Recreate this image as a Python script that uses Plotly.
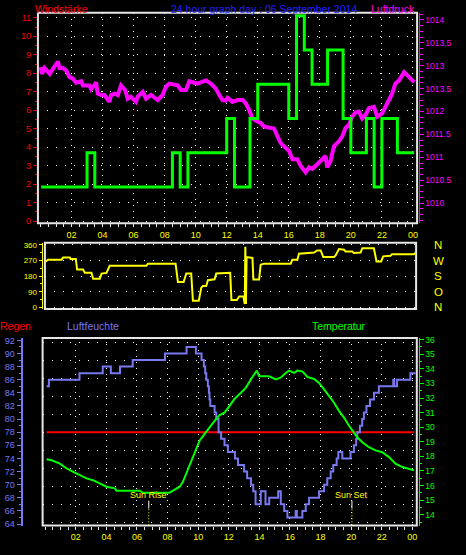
import plotly.graph_objects as go

# ---------------- data ----------------
# top chart: wind speed (km/h) as half-hour steps
wind_hours = [0.05, 3, 3.5, 8.5, 9, 9.5, 12, 12.5, 13.5, 14, 16, 16.5, 17, 17.5, 18.5, 19.5, 20, 21, 21.5, 22, 23, 24.08]
wind_avg_kmh = [1.85, 3.7, 1.85, 3.7, 1.85, 3.7, 5.56, 1.85, 5.56, 7.41, 5.56, 11.11, 9.26, 7.41, 9.26, 5.56, 3.7, 5.56, 1.85, 5.56, 3.7, 3.7]
wind_gust_kmh = [1.85, 3.7, 1.85, 3.7, 1.85, 3.7, 5.56, 1.85, 5.56, 7.41, 5.56, 11.11, 9.26, 7.41, 9.26, 5.56, 3.7, 5.56, 1.85, 5.56, 3.7, 3.7]

# top chart: air pressure (hPa)
press_hours = [0.0, 0.09, 0.26, 0.59, 0.8, 1.01, 1.12, 1.23, 1.44, 1.65,
               1.87, 2.08, 2.3, 2.62, 2.73, 3.16, 3.26, 3.48, 3.58, 3.69,
               3.9, 4.12, 4.44, 4.55, 4.77, 4.98, 5.19, 5.45, 5.62, 5.83,
               6.15, 6.26, 6.59, 6.8, 7.12, 7.55, 7.87, 8.08, 8.3, 8.84,
               9.05, 9.37, 9.59, 10.12, 10.66, 10.98, 11.3, 11.52, 11.73, 11.94,
               12.05, 12.37, 12.69, 13.02, 13.23, 13.45, 13.66, 13.98, 14.19, 14.41,
               14.84, 15.05, 15.27, 15.48, 15.7, 16.02, 16.23, 16.55, 16.77, 17.09,
               17.31, 17.52, 17.84, 18.05, 18.37, 18.48, 18.69, 18.91, 19.23, 19.45,
               19.66, 19.88, 20.09, 20.3, 20.52, 20.73, 20.95, 21.16, 21.49, 21.7,
               22.02, 22.23, 22.45, 22.66, 22.87, 23.11, 23.43, 23.76, 24.08]
press_hpa = [1012.97, 1012.82, 1012.95, 1012.82, 1012.93, 1013.04, 1013.09, 1012.95, 1012.95, 1012.9,
             1012.75, 1012.72, 1012.63, 1012.66, 1012.57, 1012.57, 1012.49, 1012.57, 1012.64, 1012.39,
             1012.36, 1012.36, 1012.21, 1012.36, 1012.39, 1012.36, 1012.57, 1012.47, 1012.28, 1012.32,
             1012.21, 1012.32, 1012.43, 1012.28, 1012.36, 1012.25, 1012.36, 1012.54, 1012.61, 1012.57,
             1012.47, 1012.47, 1012.66, 1012.61, 1012.68, 1012.61, 1012.5, 1012.36, 1012.25, 1012.24,
             1012.3, 1012.21, 1012.25, 1012.25, 1012.18, 1012.03, 1011.85, 1011.78, 1011.75, 1011.67,
             1011.65, 1011.63, 1011.46, 1011.31, 1011.24, 1011.14, 1010.96, 1010.96, 1010.81, 1010.67,
             1010.78, 1010.75, 1010.85, 1010.92, 1011.03, 1010.78, 1010.92, 1011.24, 1011.35, 1011.46,
             1011.64, 1011.71, 1011.89, 1011.98, 1012.0, 1011.85, 1011.93, 1012.07, 1012.1, 1011.89,
             1011.96, 1012.1, 1012.25, 1012.39, 1012.61, 1012.68, 1012.86, 1012.75, 1012.64]

# middle chart: wind direction (degrees)
wd_hours = [0.06, 0.21, 1.08, 1.18, 1.61, 1.66, 2.0, 2.08, 2.47, 2.58,
            3.01, 3.12, 3.55, 3.66, 3.98, 4.19, 6.56, 6.66, 8.45, 8.54,
            8.6, 8.97, 9.14, 9.46, 9.57, 9.95, 10.11, 10.21, 10.43, 10.54,
            10.97, 11.08, 11.98, 12.06, 12.41, 12.56, 12.84, 12.92, 12.96, 13.0,
            13.04, 13.42, 13.48, 13.85, 13.95, 14.17, 15.89, 16.0, 16.32, 16.43,
            17.4, 17.61, 17.83, 18.0, 18.69, 18.79, 19.01, 19.34, 19.44, 19.87,
            19.98, 20.41, 20.52, 21.27, 21.44, 21.74, 21.87, 22.34, 22.45, 23.85, 23.95]
wd_deg = [265, 275, 275, 288, 288, 279, 279, 218, 218, 199,
          199, 165, 165, 195, 199, 240, 240, 252, 252, 171,
          146, 146, 195, 195, 38, 38, 114, 123, 123, 157,
          162, 195, 199, 43, 43, 63, 63, 19, 350, 19,
          290, 285, 161, 161, 246, 252, 252, 275, 275, 309,
          316, 328, 328, 290, 290, 298, 336, 332, 322, 322,
          313, 316, 341, 341, 265, 265, 294, 298, 307, 307, 313]
wd_tickvals = [0, 90, 180, 270, 360]
wd_compass = ["N", "O", "S", "W", "N"]

# bottom chart: rain, humidity, temperature
rain_hours = [0.09, 24.1]
rain_mm = [0, 0]

hum_hours = [0.09, 0.24, 2.24, 3.76, 4.29, 4.89, 5.72, 7.83, 9.24, 9.85,
             10.22, 10.37, 10.46, 10.53, 10.63, 10.7, 10.74, 10.79, 11.07, 11.18,
             11.33, 11.5, 11.72, 11.94, 12.4, 12.6, 13.0, 13.2, 13.45, 13.6,
             13.75, 14.09, 14.4, 14.64, 15.23, 15.4, 15.62, 15.83, 16.37, 16.45,
             16.81, 17.03, 17.25, 17.68, 17.9, 18.23, 18.44, 18.66, 18.83, 19.05,
             19.16, 19.42, 19.96, 20.18, 20.33, 20.4, 20.57, 20.72, 20.83, 21.0,
             21.23, 21.49, 21.81, 22.75, 22.82, 23.0, 23.87, 24.2]
hum_pct = [85, 86, 87, 88, 87, 88, 89, 90, 91, 90,
           89, 88, 87, 86, 85, 84, 83, 82, 81, 80,
           78, 77, 76, 75, 74, 73, 72, 71, 70, 69,
           67, 69, 67, 68, 69, 67, 66, 65, 66, 65,
           66, 67, 68, 68, 69, 70, 71, 72, 73, 74,
           75, 74, 75, 76, 77, 78, 79, 80, 81, 82,
           83, 84, 85, 86, 85, 86, 87, 87]

temp_hours = [0.09, 0.42, 0.96, 1.4, 1.83, 2.26, 2.7, 3.13, 3.68, 4.0,
              4.55, 4.66, 6.18, 6.39, 8.13, 8.46, 8.79, 9.0, 9.22, 9.44,
              9.65, 9.88, 10.09, 10.42, 10.74, 11.07, 11.4, 11.72, 12.05, 12.35,
              12.79, 13.11, 13.44, 13.66, 13.83, 13.99, 14.31, 14.64, 15.07, 15.39,
              15.72, 15.94, 16.27, 16.48, 16.81, 17.14, 17.57, 17.9, 18.23, 18.55,
              18.88, 19.2, 19.53, 19.86, 20.07, 20.4, 20.73, 21.16, 21.59, 22.03,
              22.47, 22.9, 23.34, 23.77, 24.1]
temp_c = [17.8, 17.73, 17.5, 17.17, 16.94, 16.7, 16.49, 16.37, 16.08, 15.92,
          15.81, 15.65, 15.65, 15.51, 15.51, 15.69, 15.92, 16.26, 16.83, 17.39,
          18.07, 18.63, 19.08, 19.54, 19.99, 20.44, 20.83, 21.0, 21.46, 21.91,
          22.36, 22.7, 23.27, 23.6, 23.88, 23.49, 23.49, 23.49, 23.27, 23.4,
          23.72, 23.88, 23.72, 23.88, 23.83, 23.45, 23.31, 23.04, 22.59, 22.14,
          21.68, 21.12, 20.66, 20.1, 19.76, 19.31, 18.97, 18.63, 18.41, 18.29,
          17.95, 17.5, 17.27, 17.17, 17.05]

sun_rise = 6.77
sun_set = 20.05

hour_tickvals = [2, 4, 6, 8, 10, 12, 14, 16, 18, 20, 22, 24]
hour_ticktext = ["02", "04", "06", "08", "10", "12", "14", "16", "18", "20", "22", "00"]
press_tickvals = [1010, 1010.5, 1011, 1011.5, 1012, 1012.5, 1013, 1013.5, 1014]
press_ticktext = ["1010", "1010.5", "1011", "1011.5", "1012", "1013.5", "1013", "1013.5", "1014"]
temp_tickvals = [14, 15, 16, 17, 18, 19, 20, 21, 22, 23, 24, 25, 26]
temp_ticktext = ["14", "15", "16", "17", "18", "19", "30", "31", "32", "33", "34", "35", "36"]

# ---------------- layout helpers ----------------
W, H = 466, 555
def px(x):
    return x / W
def py(y):
    return 1 - y / H

FONT = "Liberation Sans, Arial, sans-serif"
WHITE = "#e6e6e6"
YEL = "#ffff00"
MAG = "#ff00ff"
RED = "#ff0000"
GRN = "#00ff00"
HUM = "#7878f0"
HGRID = dict(showgrid=True, gridcolor="#ffffff", griddash="1px,8px", gridwidth=1)
VGRID = dict(showgrid=True, gridcolor="#ffffff", griddash="1px,5px", gridwidth=1)

fig = go.Figure()

# top chart
fig.add_trace(go.Scatter(x=press_hours, y=press_hpa, xaxis="x", yaxis="y", mode="lines",
                         line=dict(color=MAG, width=4), hoverinfo="skip"))
fig.add_trace(go.Scatter(x=wind_hours, y=wind_avg_kmh, xaxis="x", yaxis="y2", mode="lines",
                         line=dict(color=RED, width=2, shape="hv"), hoverinfo="skip"))
fig.add_trace(go.Scatter(x=wind_hours, y=wind_gust_kmh, xaxis="x", yaxis="y2", mode="lines",
                         line=dict(color=GRN, width=3, shape="hv"), hoverinfo="skip"))
# middle chart
fig.add_trace(go.Scatter(x=wd_hours, y=wd_deg, xaxis="x2", yaxis="y3", mode="lines",
                         line=dict(color=YEL, width=2), hoverinfo="skip"))
# bottom chart
fig.add_trace(go.Scatter(x=rain_hours, y=rain_mm, xaxis="x3", yaxis="y4", mode="lines",
                         line=dict(color=RED, width=2), hoverinfo="skip"))
fig.add_trace(go.Scatter(x=hum_hours, y=hum_pct, xaxis="x3", yaxis="y5", mode="lines",
                         line=dict(color=HUM, width=2, shape="hv"), hoverinfo="skip"))
fig.add_trace(go.Scatter(x=temp_hours, y=temp_c, xaxis="x3", yaxis="y6", mode="lines",
                         line=dict(color=GRN, width=2), hoverinfo="skip"))

xhour = dict(tickvals=hour_tickvals, ticktext=hour_ticktext, tickfont=dict(color=YEL, size=9),
             ticks="outside", ticklen=3, tickcolor=WHITE, zeroline=False, showline=False,
             minor=dict(tickmode="linear", tick0=0, dtick=0.5, ticks="outside", ticklen=3,
                        tickcolor=WHITE, showgrid=False), **VGRID)

fig.update_layout(
    width=W, height=H, margin=dict(l=0, r=0, t=0, b=0),
    paper_bgcolor="black", plot_bgcolor="black", showlegend=False,
    font=dict(family=FONT, size=10, color="white"),
    # top chart
    xaxis=dict(domain=[px(38), px(418)], range=[-0.167, 24.27], anchor="y", **xhour),
    yaxis=dict(domain=[py(223), py(10)], range=[1009.5625, 1014.153], side="right",
               anchor="free", position=px(419.5), showline=True, linecolor=MAG, linewidth=1,
               tickvals=press_tickvals, ticktext=press_ticktext, ticks="outside", ticklen=4,
               tickcolor=MAG, tickfont=dict(color=MAG, size=8.5), showgrid=False, zeroline=False,
               minor=dict(tickmode="linear", tick0=1010, dtick=0.125, ticks="outside", ticklen=3,
                          tickcolor=MAG, showgrid=False)),
    yaxis2=dict(overlaying="y", side="left", anchor="x", range=[-0.107, 11.267],
                tick0=0, dtick=1, ticks="outside", ticklen=4, tickcolor=RED,
                tickfont=dict(color=RED, size=9), zeroline=False, showline=False,
                minor=dict(tickmode="linear", tick0=0, dtick=0.5, ticks="outside", ticklen=2,
                           tickcolor=RED, showgrid=False), **HGRID),
    # middle chart
    xaxis2=dict(domain=[px(45), px(417)], range=[0, 24], anchor="y3", showticklabels=False,
                ticks="", showgrid=False, zeroline=False, showline=False),
    yaxis3=dict(domain=[py(310), py(242.7)], range=[-9.7, 373.2], anchor="free",
                position=px(41.7), side="left", showline=True, linecolor=YEL, linewidth=1,
                tickvals=wd_tickvals, ticks="outside", ticklen=3, tickcolor=YEL,
                tickfont=dict(color=YEL, size=8), zeroline=False,
                minor=dict(tickmode="linear", tick0=0, dtick=45, ticks="outside", ticklen=2,
                           tickcolor=YEL, showgrid=False), **HGRID),
    # bottom chart
    xaxis3=dict(domain=[px(42.7), px(417.7)], range=[-0.17, 24.29], anchor="y4", **xhour),
    yaxis4=dict(domain=[py(529.3), py(339.3)], range=[-5.19, 5.23], anchor="x3",
                tick0=0, dtick=1, showticklabels=False, ticks="", zeroline=False,
                showline=False, **HGRID),
    yaxis5=dict(overlaying="y4", anchor="free", position=px(21.7), side="left",
                range=[63.76, 92.36], tick0=0, dtick=2, showline=True, linecolor=HUM,
                linewidth=2, ticks="outside", ticklen=4, tickcolor=HUM,
                tickfont=dict(color=HUM, size=9), showgrid=False, zeroline=False,
                minor=dict(tickmode="linear", tick0=0, dtick=1, ticks="outside", ticklen=2,
                           tickcolor=HUM, showgrid=False)),
    yaxis6=dict(overlaying="y4", anchor="free", position=px(419.5), side="right",
                range=[13.254, 26.115], tickvals=temp_tickvals, ticktext=temp_ticktext,
                showline=True, linecolor=GRN,
                linewidth=1, ticks="outside", ticklen=4, tickcolor=GRN,
                tickfont=dict(color=GRN, size=8.5), showgrid=False, zeroline=False,
                minor=dict(tickmode="linear", tick0=0, dtick=0.5, ticks="outside", ticklen=2,
                           tickcolor=GRN, showgrid=False)),
    yaxis7=dict(overlaying="y4", anchor="x3", side="left", range=[-5.19, 5.23],
                tickvals=[0], ticktext=["0"], ticks="outside", ticklen=4, tickcolor=RED,
                tickfont=dict(color=RED, size=9), showgrid=False, zeroline=False,
                showline=False),
)

shapes = []
for xr, yr in (("x", "y"), ("x2", "y3"), ("x3", "y4")):
    shapes.append(dict(type="rect", xref=f"{xr} domain", yref=f"{yr} domain",
                       x0=0, x1=1, y0=0, y1=1, line=dict(color=WHITE, width=2), layer="above"))
for t in (sun_rise, sun_set):
    shapes.append(dict(type="line", xref="x3", yref="paper", x0=t, x1=t, y0=py(512), y1=py(504),
                       line=dict(color="white", width=1)))
    shapes.append(dict(type="line", xref="x3", yref="paper", x0=t, x1=t, y0=py(529), y1=py(512),
                       line=dict(color=YEL, width=1, dash="1px,2px")))
fig.update_layout(shapes=shapes)

ann = []
def label(text, x, y, color, size=10.5, xanchor="left", xref="paper", yref="paper"):
    ann.append(dict(text=text, x=x, y=y, xref=xref, yref=yref, xanchor=xanchor, yanchor="middle",
                    showarrow=False, font=dict(color=color, size=size, family=FONT)))

label("Windstärke", px(33), py(6), RED)
label("24 hour graph day : 06 September 2014", px(265), py(6), "#2020ff", 10.5, "center")
label("Luftdruck", px(370), py(6), MAG)
label("Regen", px(-2), py(327), RED)
label("Luftfeuchte", px(65), py(327), HUM)
label("Temperatur", px(311), py(327), GRN)
for v, c in zip(wd_tickvals, wd_compass):
    label(c, px(439), v, YEL, 11.5, "center", yref="y3")
label("Sun Rise", sun_rise, py(498), YEL, 9, "center", xref="x3")
label("Sun Set", sun_set, py(498), YEL, 9, "center", xref="x3")
fig.update_layout(annotations=ann)

fig.write_html("out.html",
               config={"displayModeBar": False, "staticPlot": True},
               post_script="document.body.style.margin='0px';document.body.style.overflow='hidden';")
